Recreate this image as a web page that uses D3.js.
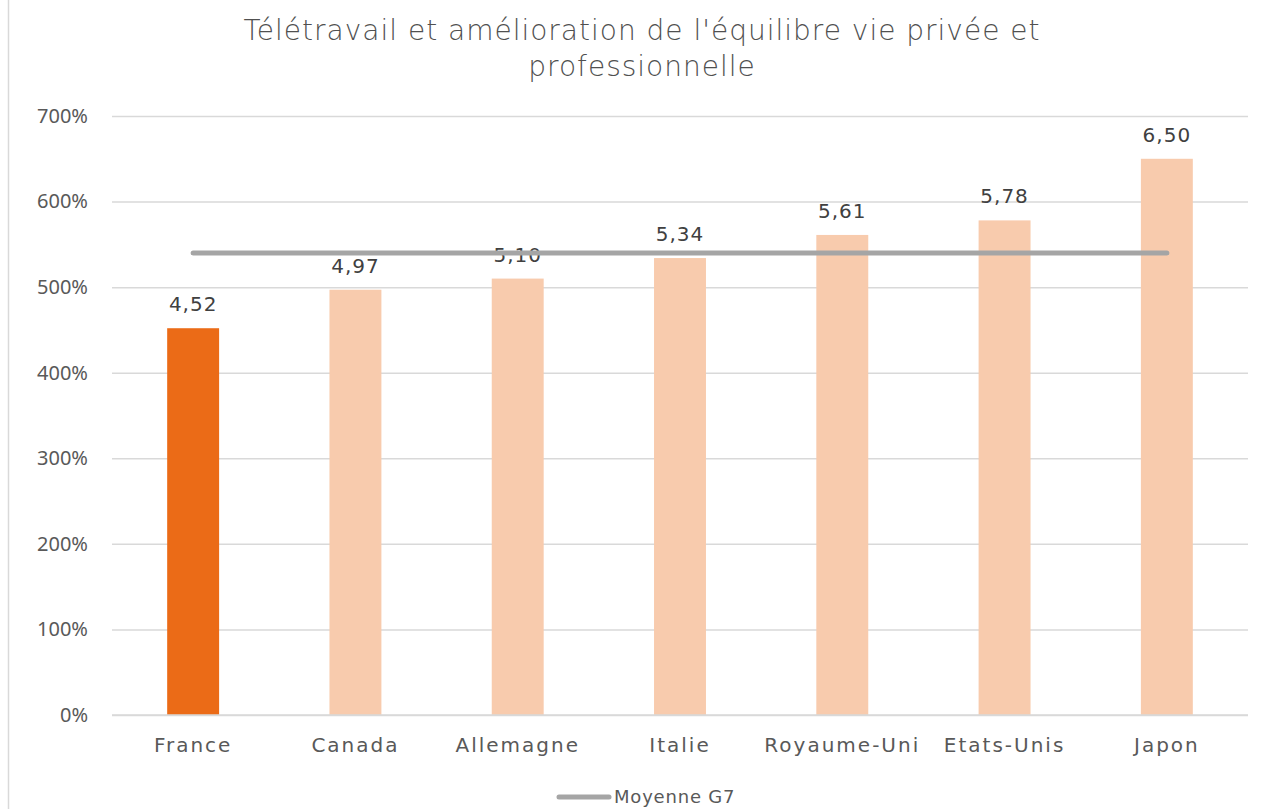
<!DOCTYPE html>
<html>
<head>
<meta charset="utf-8">
<script src="https://cdn.jsdelivr.net/npm/d3@7"></script>
<style>
  html, body { margin: 0; padding: 0; background: #fff; }
  svg { display: block; font-family: "DejaVu Sans", sans-serif; }
</style>
</head>
<body>
<svg id="chart" width="1272" height="809"></svg>
<script>
// Country scores (1 unit = 100 % on the axis)
const countries = ["France", "Canada", "Allemagne", "Italie", "Royaume-Uni", "Etats-Unis", "Japon"];
const scores = [4.52, 4.97, 5.10, 5.34, 5.61, 5.78, 6.50];
const g7Average = [5.40, 5.40, 5.40, 5.40, 5.40, 5.40, 5.40];
const yTicks = [0, 1, 2, 3, 4, 5, 6, 7];
const titleLines = ["Télétravail et amélioration de l'équilibre vie privée et", "professionnelle"];
const legendLabel = "Moyenne G7";

const svg = d3.select("#chart");
const W = 1272, H = 809;
const m = { left: 112, right: 24, top: 116, bottom: 94 };

const x = d3.scaleBand().domain(countries).range([m.left, W - m.right]).paddingInner(0.68).paddingOuter(0.34);
const y = d3.scaleLinear().domain([0, 7]).range([H - m.bottom, m.top]);

const textColor = "#595959";
const font = "DejaVu Sans, sans-serif";

// chart area border (left edge)
svg.append("line").attr("x1", 8.5).attr("x2", 8.5).attr("y1", 0).attr("y2", H)
  .attr("stroke", "#d9d9d9").attr("stroke-width", 1.5);

// title
svg.append("text").attr("x", 642).attr("y", 40).attr("text-anchor", "middle")
  .attr("font-size", 28).attr("font-weight", 300).attr("fill", "#505050")
  .attr("letter-spacing", 1)
  .selectAll("tspan").data(titleLines).join("tspan")
  .attr("x", 642).attr("dy", (d, i) => i === 0 ? 0 : 36).text(d => d);

// y axis with gridlines
const yAxis = d3.axisLeft(y).tickValues(yTicks).tickFormat(d => d3.format(".0%")(d))
  .tickSize(-(W - m.left - m.right)).tickPadding(24);
const gy = svg.append("g").attr("transform", `translate(${m.left},0)`).call(yAxis);
gy.select(".domain").remove();
gy.selectAll(".tick line").attr("stroke", "#d9d9d9").attr("stroke-width", 1.5);
gy.selectAll(".tick text").attr("font-size", 20).attr("fill", textColor)
  .attr("font-family", "Noto Sans, sans-serif");

// bars
svg.append("g").selectAll("rect").data(countries).join("rect")
  .attr("x", d => x(d))
  .attr("width", x.bandwidth())
  .attr("y", (d, i) => y(scores[i]))
  .attr("height", (d, i) => y(0) - y(scores[i]))
  .attr("fill", (d, i) => i === 0 ? "#EB6B17" : "#F8CBAD");

// value labels
const fmt = v => d3.format(".2f")(v).replace(".", ",");
svg.append("g").selectAll("text").data(countries).join("text")
  .attr("x", d => x(d) + x.bandwidth() / 2)
  .attr("y", (d, i) => y(scores[i]) - 17)
  .attr("text-anchor", "middle").attr("font-size", 20).attr("fill", "#404040")
  .attr("letter-spacing", 1)
  .text((d, i) => fmt(scores[i]));

// baseline axis
const xAxis = d3.axisBottom(x).tickSize(0).tickPadding(23);
const gx = svg.append("g").attr("transform", `translate(0,${y(0)})`).call(xAxis);
gx.select(".domain").attr("stroke", "#d9d9d9").attr("stroke-width", 1.5)
  .attr("d", `M${m.left},0H${W - m.right}`);
gx.selectAll(".tick text").attr("font-size", 20).attr("fill", textColor)
  .attr("font-family", font).attr("letter-spacing", 2);

// G7 average line
const line = d3.line().x(d => x(d.c) + x.bandwidth() / 2).y(d => y(d.v));
svg.append("path")
  .datum(countries.map((c, i) => ({ c, v: g7Average[i] })))
  .attr("d", line).attr("fill", "none").attr("stroke", "#A5A5A5")
  .attr("stroke-width", 5).attr("stroke-linecap", "round");

// legend
const lg = svg.append("g").attr("transform", "translate(559,797)");
lg.append("line").attr("x1", 0).attr("x2", 50).attr("stroke", "#A5A5A5")
  .attr("stroke-width", 5).attr("stroke-linecap", "round");
lg.append("text").attr("x", 55).attr("y", 0).attr("dy", "0.35em")
  .attr("font-size", 18).attr("fill", textColor).attr("letter-spacing", 0.8)
  .text(legendLabel);
</script>
</body>
</html>
